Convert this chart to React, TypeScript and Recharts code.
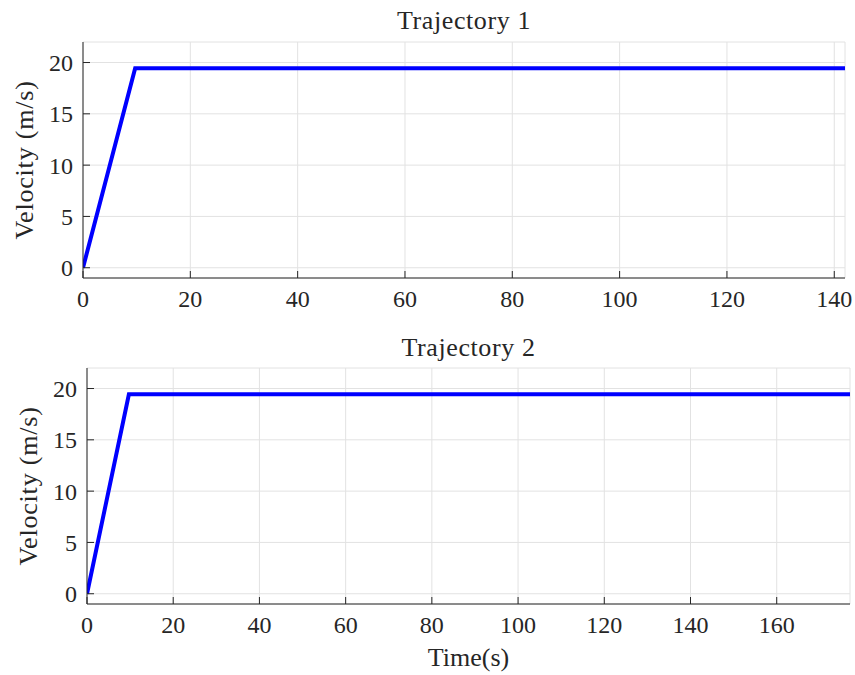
import React from 'react';
import { LineChart, Line, XAxis, YAxis, CartesianGrid } from 'recharts';

// trajectory 1
const time1 = [0, 9.72, 142];
const vel1 = [0, 19.44, 19.44];
// trajectory 2
const time2 = [0, 9.72, 177];
const vel2 = [0, 19.44, 19.44];

const xTicks1 = [0, 20, 40, 60, 80, 100, 120, 140];
const xTicks2 = [0, 20, 40, 60, 80, 100, 120, 140, 160];
const yTicks = [0, 5, 10, 15, 20];

const FONT = '"Liberation Serif", serif';
const INK = '#262626';
const FS = 24;
const LABEL_FS = 26;
const TICK_LEN = 7;
const XM = 10; // gap between axis and x labels
const YM = 10; // gap between axis and y labels

const BottomTick = (props: any) => {
  const { x, y, payload } = props;
  const ay = y - XM;
  return (
    <g>
      <line x1={x} x2={x} y1={ay} y2={ay - TICK_LEN} stroke={INK} strokeWidth={1} />
      <text x={x} y={y} dy="0.8em" textAnchor="middle" fill={INK} fontFamily={FONT} fontSize={FS}>
        {payload.value}
      </text>
    </g>
  );
};

const LeftTick = (props: any) => {
  const { x, y, payload } = props;
  const ax = x + YM;
  return (
    <g>
      <line x1={ax} x2={ax + TICK_LEN} y1={y} y2={y} stroke={INK} strokeWidth={1} />
      <text x={x} y={y} dy="0.35em" textAnchor="end" fill={INK} fontFamily={FONT} fontSize={FS}>
        {payload.value}
      </text>
    </g>
  );
};

const TopTick = (props: any) => {
  const { x, y } = props;
  return <line x1={x} x2={x} y1={y} y2={y + TICK_LEN} stroke={INK} strokeWidth={1} />;
};

const RightTick = (props: any) => {
  const { x, y } = props;
  return <line x1={x} x2={x - TICK_LEN} y1={y} y2={y} stroke={INK} strokeWidth={1} />;
};

const toRows = (t: number[], v: number[]) => t.map((tt, i) => ({ t: tt, v: v[i] }));

interface PanelProps {
  title: string;
  time: number[];
  vel: number[];
  xMax: number;
  xTicks: number[];
  height: number;
  yAxisWidth: number;
  margin: { top: number; right: number; bottom: number; left: number };
  xAxisHeight: number;
  xLabel?: string;
  titleTop: number;
  yLabelOffset: number;
}

const Panel: React.FC<PanelProps> = ({
  title, time, vel, xMax, xTicks, height, yAxisWidth, margin, xAxisHeight, xLabel, titleTop, yLabelOffset,
}) => {
  const data = toRows(time, vel);
  const plotLeft = margin.left + yAxisWidth;
  const plotRight = 855 - margin.right;
  return (
    <div style={{ position: 'relative', width: 855, height }}>
      <div
        style={{
          position: 'absolute',
          top: titleTop,
          left: plotLeft,
          width: plotRight - plotLeft,
          textAlign: 'center',
          fontFamily: FONT,
          fontSize: 26,
          letterSpacing: 0.6,
          color: INK,
          lineHeight: 1,
        }}
      >
        {title}
      </div>
      <LineChart width={855} height={height} data={data} margin={margin}>
        <CartesianGrid stroke="#e2e2e2" strokeWidth={1} />
        <XAxis
          dataKey="t"
          type="number"
          domain={[0, xMax]}
          ticks={xTicks}
          allowDataOverflow
          height={xAxisHeight}
          tickSize={0}
          tickMargin={XM}
          tickLine={false}
          axisLine={{ stroke: INK }}
          tick={<BottomTick />}
          label={
            xLabel
              ? {
                  value: xLabel,
                  position: 'insideBottom',
                  offset: -2,
                  fill: INK,
                  fontFamily: FONT,
                  fontSize: LABEL_FS,
                  style: { fontSize: LABEL_FS, fontFamily: FONT },
                }
              : undefined
          }
        />
        <XAxis
          xAxisId="top"
          orientation="top"
          dataKey="t"
          type="number"
          domain={[0, xMax]}
          ticks={xTicks}
          allowDataOverflow
          height={0}
          tickSize={0}
          tickMargin={0}
          tickLine={false}
          axisLine={{ stroke: INK }}
          tick={<TopTick />}
        />
        <YAxis
          type="number"
          domain={[-1, 22]}
          ticks={yTicks}
          allowDataOverflow
          width={yAxisWidth}
          tickSize={0}
          tickMargin={YM}
          tickLine={false}
          axisLine={{ stroke: INK }}
          tick={<LeftTick />}
          label={{
            value: 'Velocity (m/s)',
            angle: -90,
            position: 'insideLeft',
            offset: yLabelOffset,
            fill: INK,
            fontFamily: FONT,
            fontSize: LABEL_FS,
            style: { textAnchor: 'middle', fontSize: LABEL_FS, fontFamily: FONT, letterSpacing: 0.8 },
          }}
        />
        <YAxis
          yAxisId="right"
          orientation="right"
          type="number"
          domain={[-1, 22]}
          ticks={yTicks}
          allowDataOverflow
          width={0}
          tickSize={0}
          tickMargin={0}
          tickLine={false}
          axisLine={{ stroke: INK }}
          tick={<RightTick />}
        />
        <Line
          type="linear"
          dataKey="v"
          stroke="#0000ff"
          strokeWidth={4}
          dot={false}
          isAnimationActive={false}
        />
      </LineChart>
    </div>
  );
};

export default function App() {
  return (
    <div style={{ position: 'absolute', left: 0, top: 0, width: 855, height: 675, background: '#fff' }}>
      <Panel
        title="Trajectory 1"
        time={time1}
        vel={vel1}
        xMax={142}
        xTicks={xTicks1}
        height={330}
        yAxisWidth={83}
        margin={{ top: 42, right: 10, bottom: 12, left: 0 }}
        xAxisHeight={40}
        titleTop={8}
        yLabelOffset={24}
      />
      <Panel
        title="Trajectory 2"
        time={time2}
        vel={vel2}
        xMax={177}
        xTicks={xTicks2}
        height={345}
        yAxisWidth={87}
        margin={{ top: 38, right: 5, bottom: 11, left: 0 }}
        xAxisHeight={60}
        xLabel="Time(s)"
        titleTop={5}
        yLabelOffset={28}
      />
    </div>
  );
}
